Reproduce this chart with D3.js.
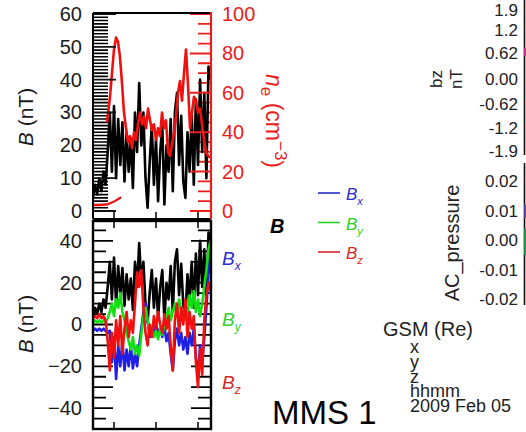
<!DOCTYPE html>
<html><head><meta charset="utf-8">
<script src="https://cdn.jsdelivr.net/npm/d3@7"></script>
<style>body{margin:0;background:#fff}svg{display:block}</style>
</head><body><svg id="c" width="526" height="432"></svg>
<script>
// ---------- DATA ----------
const tB = [0,0.05,0.1,0.15,0.2,0.25,0.3,0.35,0.4,0.45,0.5,0.55,0.6,0.65,0.7,0.75,0.8,0.85,0.9,0.95,
  1.0,1.05,1.1,1.15,1.2,1.25,1.3,1.35,1.4,1.45,1.5,1.55,1.6,1.65,1.7,1.75,1.8,1.85,1.9,1.95,
  2.0,2.05,2.1,2.15,2.2,2.25,2.3,2.35,2.4,2.45,2.5,2.55,2.6,2.65,2.7,2.75,2.8];
const Btot = [4,8,5,10,6,12,8,18,30,12, 32,10,28,14,27,9,24,12,22,7,
  30,18,39,20,30,10,1,15,26,8, 22,3,18,26,2,20,12,28,6,30,
  36,14,29,9,4,24,12,30,8,34, 14,40,18,36,10,44,40];
const Bx = [-3,-2,-3,-2,-3,-2,-3,-4,-3,-18, -6,-26,-10,-20,-8,-22,-12,-20,-10,-21,
  -14,-20,-10,-2,6,10,2,-6,-2,-5, 0,-4,-2,-6,-1,-8,-4,-14,-22,-8,
  -2,-10,-4,-12,-6,-14,-4,-10,-2,-16, -24,-10,-18,-6,8,25,38];
const By = [1,2,1,2,1,2,1,3,6,10, 4,12,8,15,6,2,-4,-8,-12,-6,
  -14,-10,-15,-5,4,8,2,-4,-2,-6, -3,-7,-2,-5,0,4,8,2,6,10,
  4,12,6,2,10,4,14,8,16,6, 12,4,10,18,26,36,40];
const Bz = [3,4,3,5,3,4,2,-8,-22,-4, -16,2,-10,4,-14,-2,6,-6,2,-4,
  10,25,18,26,8,-4,-10,0,-6,4, -2,6,0,-4,5,-2,4,-10,-22,2,
  10,-4,8,0,12,-6,6,-2,4,-18, -30,-12,-24,2,14,20,16];
const neTimeA = [0,0.17,0.36,0.52,0.67];
const neValA = [3,3,3.5,5,7];
const neTime = [0.333,0.405,0.452,0.5,0.548,0.595,0.643,0.690,0.738,0.786,0.833,0.881,0.929,0.976,
  1.024,1.071,1.119,1.167,1.214,1.262,1.310,1.357,1.405,1.452,1.5,1.548,1.595,1.643,1.690,1.738,
  1.786,1.833,1.881,1.929,1.976,2.024,2.071,2.119,2.167,2.214,2.262,2.310,2.357,2.405,2.452,2.5,
  2.548,2.595,2.643,2.690,2.738,2.786];
const neVal = [45,58,70,82,88,86,78,65,50,42,35,38,32,40,36,44,50,44,48,42,52,46,41,44,36,42,38,50,
  42,46,30,28,34,40,48,60,66,56,70,82,64,42,50,58,56,50,52,44,36,30,28,27];
const timeTicks = [0.5,1.5,2.5];
const topTicks = [0,10,20,30,40,50,60];
const topMinor = [1,2,3,4,5,6,7,8,9,11,12,13,14,15,16,17,18,19,21,22,23,24,25,26,27,28,29,
  31,32,33,34,35,36,37,38,39,41,42,43,44,45,46,47,48,49,51,52,53,54,55,56,57,58,59];
const neTicks = [0,20,40,60,80,100];
const neMinor = [5,10,15,25,30,35,45,50,55,65,70,75,85,90,95];
const botMajor = [-40,-30,-20,-10,0,10,20,30,40];
const botMinor = [-45,-35,-25,-15,-5,5,15,25,35,45];
const botLabels = [-40,-20,0,20,40];
const bzTicks = [1.9,1.2,0.62,0,-0.62,-1.2,-1.9];
const bzLabels = ["1.9","1.2","0.62","0.00","-0.62","-1.2","-1.9"];
const acTicks = [0.02,0.01,0,-0.01,-0.02];
const acLabels = ["0.02","0.01","0.00","-0.01","-0.02"];
const bzEdgeT = [0.02,0.02], bzEdgeV = [0.76,0.56];
const acPurpleT = [0.02,0.02], acPurpleV = [0.012,0.0075];
const acGreenT = [0.02,0.02], acGreenV = [0.004,-0.005];
const infoLines = ["x","y","z","hhmm","2009 Feb 05"];
const legendItems = [{s:"x",c:"#2b2bd0"},{s:"y",c:"#27d127"},{s:"z",c:"#d62828"}];

// ---------- DRAW ----------
const FONT = "'Liberation Sans', Arial, Helvetica, sans-serif";
const svg = d3.select("#c").style("font-family", FONT);
const L = 93, R = 211, topT = 13, topB = 219, botT = 221, botB = 429;
const RED = "#e8201c", BLUE = "#1f1fe6", GREEN = "#10e010", DRED = "#f01010";

const x = d3.scaleLinear().domain([0, 2.8]).range([L, 210.6]);
const yTop = d3.scaleLinear().domain([0, 60]).range([211, 14]);
const yNe = d3.scaleLinear().domain([0, 100]).range([211, 14]);
const yBot = d3.scaleLinear().domain([-50, 50]).range([botB, botT - 1]);

function styleAxis(g, color, width, fs) {
  g.select(".domain").remove();
  g.selectAll("line").attr("stroke", color).attr("stroke-width", width);
  g.selectAll("text").attr("fill", color).style("font-size", fs + "px").style("font-family", FONT);
}
function tickMarks(vals, scale, x0, len, color, w) {
  const d = vals.map(v => `M${x0},${scale(v).toFixed(2)}h${len}`).join("");
  svg.append("path").attr("d", d).attr("fill", "none").attr("stroke", color).attr("stroke-width", w);
}
function vTicks(vals, scale, y0, len, color, w) {
  const d = vals.map(v => `M${scale(v).toFixed(2)},${y0}v${len}`).join("");
  svg.append("path").attr("d", d).attr("fill", "none").attr("stroke", color).attr("stroke-width", w);
}

const defs = svg.append("defs");
defs.append("clipPath").attr("id", "cTop").append("rect").attr("x", L).attr("y", topT).attr("width", R - L).attr("height", topB - topT);
defs.append("clipPath").attr("id", "cBot").append("rect").attr("x", L).attr("y", botT).attr("width", R - L).attr("height", botB - botT);

// ---- Top panel
tickMarks(topMinor, yTop, L, 15, "#000", 1.6);
tickMarks(neMinor, yNe, R, -13, RED, 1.8);

const lineB = d3.line().x((d, i) => x(tB[i])).y(d => yTop(d));
svg.append("path").attr("clip-path", "url(#cTop)").datum(Btot).attr("d", lineB)
  .attr("fill", "none").attr("stroke", "#000").attr("stroke-width", 2.6).attr("stroke-linejoin", "round");
const lineNeA = d3.line().x((d, i) => x(neTimeA[i])).y(d => yNe(d));
svg.append("path").attr("clip-path", "url(#cTop)").datum(neValA).attr("d", lineNeA)
  .attr("fill", "none").attr("stroke", DRED).attr("stroke-width", 2.2);
const lineNe = d3.line().x((d, i) => x(neTime[i])).y(d => yNe(d));
svg.append("path").attr("clip-path", "url(#cTop)").datum(neVal).attr("d", lineNe)
  .attr("fill", "none").attr("stroke", DRED).attr("stroke-width", 2.6).attr("stroke-linejoin", "round");

tickMarks(topTicks, yTop, L, 23, "#111", 1.8);
tickMarks(neTicks, yNe, R, -21, RED, 2);
svg.append("g").attr("transform", `translate(${L},0)`)
  .call(d3.axisLeft(yTop).tickValues(topTicks).tickSize(0).tickPadding(11).tickFormat(d3.format("d")))
  .call(g => styleAxis(g, "#1a1a1a", 1.8, 20));
svg.append("g").attr("transform", `translate(${R},0)`)
  .call(d3.axisRight(yNe).tickValues(neTicks).tickSize(0).tickPadding(11).tickFormat(d3.format("d")))
  .call(g => styleAxis(g, RED, 2, 20));
svg.append("line").attr("x1", L).attr("x2", L).attr("y1", topT).attr("y2", topB).attr("stroke", "#000").attr("stroke-width", 2);
svg.append("line").attr("x1", L).attr("x2", R).attr("y1", topT).attr("y2", topT).attr("stroke", "#000").attr("stroke-width", 2);
svg.append("line").attr("x1", L).attr("x2", R).attr("y1", topB).attr("y2", topB).attr("stroke", "#000").attr("stroke-width", 2);
svg.append("line").attr("x1", R).attr("x2", R).attr("y1", topT - 1).attr("y2", topB).attr("stroke", RED).attr("stroke-width", 2.2);
vTicks(timeTicks, x, topB, -7, "#000", 1.5);

// ---- Bottom panel
tickMarks(botMinor, yBot, L, 13, "#000", 1.8);
tickMarks(botMajor, yBot, L, 20, "#000", 1.8);
tickMarks(botMinor, yBot, R, -13, "#000", 1.8);
tickMarks(botMajor, yBot, R, -20, "#000", 1.8);
const mkLine = arr => d3.line().x((d, i) => x(tB[i])).y(d => yBot(d))(arr);
const series = [{v: Btot, c: "#000"}, {v: Bx, c: BLUE}, {v: By, c: GREEN}, {v: Bz, c: DRED}];
const gb = svg.append("g").attr("clip-path", "url(#cBot)");
series.forEach(s => gb.append("path").attr("d", mkLine(s.v)).attr("fill", "none").attr("stroke", s.c)
  .attr("stroke-width", 2.6).attr("stroke-linejoin", "round"));

const botFmt = d => botLabels.includes(d) ? d3.format("d")(d) : "";
svg.append("g").attr("transform", `translate(${L},0)`)
  .call(d3.axisLeft(yBot).tickValues(botMajor).tickSize(0).tickPadding(11).tickFormat(botFmt))
  .call(g => styleAxis(g, "#1a1a1a", 1.8, 20));
svg.append("rect").attr("x", L).attr("y", botT).attr("width", R - L).attr("height", botB - botT)
  .attr("fill", "none").attr("stroke", "#000").attr("stroke-width", 2.4);
vTicks(timeTicks, x, botT, 7, "#000", 1.5);
vTicks(timeTicks, x, botB, -7, "#000", 1.5);

// ---- Axis titles
function bLabel(tx, ty) {
  const t = svg.append("text").attr("transform", `translate(${tx},${ty}) rotate(-90)`)
    .attr("text-anchor", "middle").style("font-size", "21px").attr("fill", "#1a1a1a");
  t.append("tspan").style("font-style", "italic").text("B");
  t.append("tspan").text(" (nT)");
}
bLabel(33, 117);
bLabel(33, 324);
{
  const t = svg.append("text").attr("transform", "translate(266,121) rotate(90)")
    .attr("text-anchor", "middle").style("font-size", "23px").attr("fill", RED);
  t.append("tspan").style("font-style", "italic").text("n");
  t.append("tspan").style("font-size", "17px").attr("dy", 5).text("e");
  t.append("tspan").attr("dy", -5).text(" (cm");
  t.append("tspan").style("font-size", "17px").attr("dy", -9).text("−3");
  t.append("tspan").attr("dy", 9).text(")");
}
const compLab = [{s: "x", c: "#2b2bd0", y: 265}, {s: "y", c: "#2fd12f", y: 326}, {s: "z", c: "#d62828", y: 389}];
compLab.forEach(d => {
  const t = svg.append("text").attr("x", 222).attr("y", d.y).attr("fill", d.c)
    .style("font-size", "19px").style("font-style", "italic");
  t.append("tspan").text("B");
  t.append("tspan").style("font-size", "12px").attr("dy", 5).text(d.s);
});

// ---- Legend
svg.append("text").attr("x", 270).attr("y", 233).style("font-size", "20px")
  .style("font-weight", "bold").style("font-style", "italic").attr("fill", "#000").text("B");
const ly = d3.scalePoint().domain(legendItems.map(d => d.s)).range([193, 252]);
legendItems.forEach(d => {
  svg.append("line").attr("x1", 318).attr("x2", 340).attr("y1", ly(d.s)).attr("y2", ly(d.s))
    .attr("stroke", d.c).attr("stroke-width", 1.6);
  const t = svg.append("text").attr("x", 346).attr("y", ly(d.s) + 7).attr("fill", d.c)
    .style("font-size", "17px").style("font-style", "italic");
  t.append("tspan").text("B");
  t.append("tspan").style("font-size", "11px").attr("dy", 5).text(d.s);
});

// ---- MMS 1
svg.append("text").attr("x", 272).attr("y", 424).style("font-size", "33px").attr("fill", "#000").text("MMS 1");

// ---- Right side panels
const AX = 524.5;
const yBzS = d3.scaleLinear().domain([-1.9, 1.9]).range([157, 1]);
const yAc = d3.scaleLinear().domain([-0.02, 0.02]).range([299.5, 181]);
const xR = d3.scaleLinear().domain([0, 1]).range([AX, AX + 60]);
svg.append("line").attr("x1", AX).attr("x2", AX).attr("y1", 0).attr("y2", 155).attr("stroke", "#111").attr("stroke-width", 1.6);
svg.append("line").attr("x1", AX).attr("x2", AX).attr("y1", 163).attr("y2", 305).attr("stroke", "#111").attr("stroke-width", 1.6);
bzTicks.forEach((d, i) => svg.append("text")
  .attr("x", 518).attr("y", Math.max(10, Math.min(151, yBzS(d))))
  .attr("dy", "0.35em").attr("text-anchor", "end").style("font-size", "17px").attr("fill", "#222")
  .text(bzLabels[i]));
acTicks.forEach((d, i) => svg.append("text")
  .attr("x", 518).attr("y", yAc(d))
  .attr("dy", "0.35em").attr("text-anchor", "end").style("font-size", "17px").attr("fill", "#222")
  .text(acLabels[i]));
const edge = (ts, vs, ys) => d3.line().x((d, i) => xR(ts[i])).y(d => ys(d))(vs);
svg.append("path").attr("d", edge(bzEdgeT, bzEdgeV, yBzS)).attr("stroke", "#e0309a").attr("stroke-width", 3);
svg.append("path").attr("d", edge(acPurpleT, acPurpleV, yAc)).attr("stroke", "#6a4aa8").attr("stroke-width", 3);
svg.append("path").attr("d", edge(acGreenT, acGreenV, yAc)).attr("stroke", "#20a050").attr("stroke-width", 3);

svg.append("text").attr("transform", "translate(442,79) rotate(-90)").attr("text-anchor", "middle")
  .style("font-size", "17px").attr("fill", "#222").text("bz");
svg.append("text").attr("transform", "translate(462,79) rotate(-90)").attr("text-anchor", "middle")
  .style("font-size", "17px").attr("fill", "#222").text("nT");
svg.append("text").attr("transform", "translate(459,243) rotate(-90)").attr("text-anchor", "middle")
  .style("font-size", "20px").attr("fill", "#222").text("AC_pressure");

svg.append("text").attr("x", 383).attr("y", 336).style("font-size", "20px").attr("fill", "#222").text("GSM (Re)");
const infoY = d3.scalePoint().domain(infoLines).range([353, 412]);
infoLines.forEach(d => svg.append("text")
  .attr("x", 410).attr("y", infoY(d)).style("font-size", "18px").attr("fill", "#222").text(d));
</script></body></html>
